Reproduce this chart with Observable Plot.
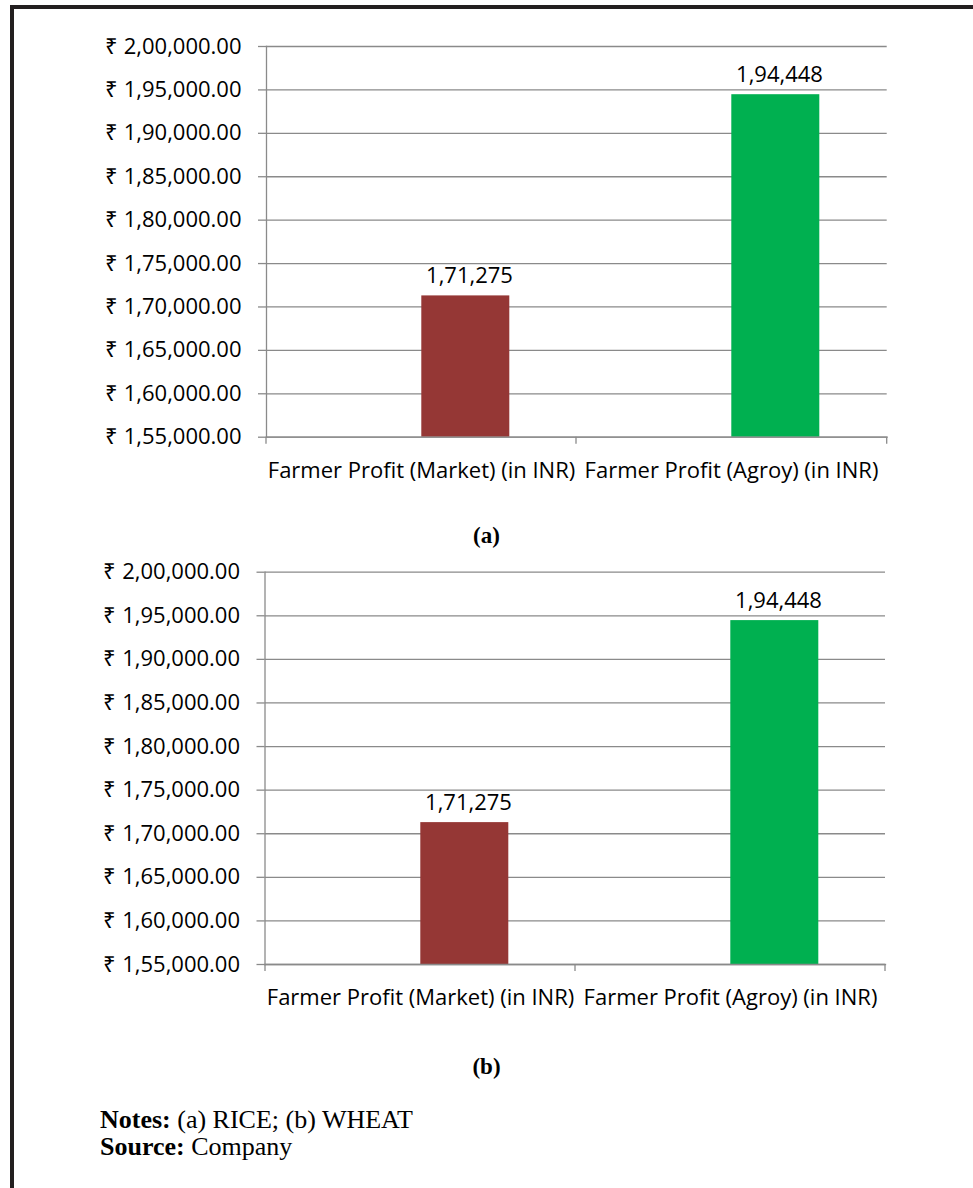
<!DOCTYPE html>
<html>
<head>
<meta charset="utf-8">
<script src="https://cdn.jsdelivr.net/npm/d3@7"></script>
<script src="https://cdn.jsdelivr.net/npm/@observablehq/plot@0.6"></script>
<style>
  html, body { margin: 0; padding: 0; background: #fff; }
  body { width: 973px; height: 1188px; position: relative; overflow: hidden; }
  .frame { position: absolute; left: 10px; top: 5px; width: 980px; height: 1200px;
           border-top: 4px solid #231f20; border-left: 4px solid #231f20; }
  .chart { position: absolute; left: 0; }
  .panel { position: absolute; left: 0; width: 973px; text-align: center;
           font-family: "Liberation Serif", serif; font-weight: bold; font-size: 23px; }
  .notes { position: absolute; left: 100px; font-family: "Liberation Serif", serif;
           font-size: 26px; color: #000; line-height: 27px; }
</style>
</head>
<body>
<div class="frame"></div>
<div id="chartA" class="chart" style="top:0px"></div>
<div class="panel" style="top:523px;">(a)</div>
<div id="chartB" class="chart" style="top:520px"></div>
<div class="panel" style="top:1054px;">(b)</div>
<div class="notes" style="top:1106px;"><b>Notes:</b> (a) RICE; (b) WHEAT<br><b>Source:</b> Company</div>
<script>
const categories = ["Farmer Profit (Market) (in INR)", "Farmer Profit (Agroy) (in INR)"];
const riceProfit = [171275, 194448];
const wheatProfit = [171275, 194448];
const barColors = ["#953735", "#00b050"];
const yTicks = [155000, 160000, 165000, 170000, 175000, 180000, 185000, 190000, 195000, 200000];

function indian(v) {
  const s = Math.round(v).toString();
  const last3 = s.slice(-3);
  const rest = s.slice(0, -3);
  return rest ? rest.replace(/\B(?=(\d{2})+(?!\d))/g, ",") + "," + last3 : last3;
}
const tickLabel = v => "₹ " + indian(v) + ".00";

const FONT = '"Open Sans", sans-serif';
const GRID = "#8a8a8a";

function makeChart(values, m) {
  const data = categories.map((c, i) => ({category: c, value: values[i], color: barColors[i]}));
  const boundaryTicks = (index, scales, vals, dims) => {
    const x = scales.x;
    const g = d3.create("svg:g");
    const xs = categories.map(c => x(c));
    xs.push(dims.width - dims.marginRight);
    const y0 = dims.height - dims.marginBottom;
    for (const px of xs) {
      g.append("line").attr("x1", px).attr("x2", px).attr("y1", y0).attr("y2", y0 + 7)
        .attr("stroke", GRID).attr("stroke-width", 1.3);
    }
    return g.node();
  };
  return Plot.plot({
    width: 973,
    height: 500,
    marginTop: m.top,
    marginBottom: m.bottom,
    marginLeft: m.left,
    marginRight: m.right,
    style: {fontFamily: FONT, fontSize: "22px", color: "#000", background: "transparent"},
    x: {type: "band", domain: categories, padding: 0, label: null},
    y: {domain: [155000, 200000], label: null},
    marks: [
      Plot.gridY(yTicks, {stroke: GRID, strokeOpacity: 1, strokeWidth: 1.3}),
      Plot.barY(data, {x: "category", y1: 155000, y2: "value", fill: "color", insetLeft: 155.3, insetRight: 66.7}),
      Plot.frame({anchor: "left", stroke: GRID, strokeWidth: 1.3}),
      Plot.frame({anchor: "bottom", stroke: GRID, strokeWidth: 1.3}),
      Plot.axisY({ticks: yTicks, tickFormat: tickLabel, tickSize: 8, tickPadding: 17, stroke: GRID, strokeWidth: 1.3, fill: "#000", fontSize: 22, label: null}),
      Plot.axisX({tickSize: 0, tickPadding: 25, fill: "#000", fontSize: 22, label: null}),
      boundaryTicks,
      Plot.text(data, {x: "category", y: "value", text: d => indian(d.value), lineAnchor: "bottom", dy: -12.7, dx: 48, fontSize: 22, fill: "#000"})
    ]
  });
}

document.getElementById("chartA").append(makeChart(riceProfit, {top: 46, bottom: 63.3, left: 266, right: 86.3}));
document.getElementById("chartB").append(makeChart(wheatProfit, {top: 51.7, bottom: 56, left: 264.5, right: 88}));
</script>
</body>
</html>
